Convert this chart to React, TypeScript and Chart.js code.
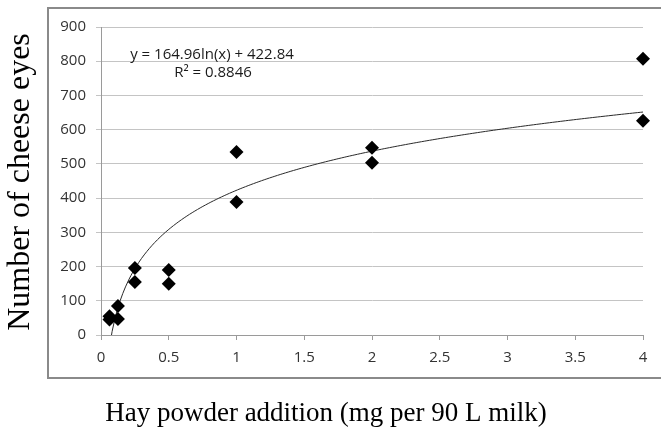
import React, { useEffect, useRef } from "react";
import { Chart, registerables } from "chart.js";

Chart.register(...registerables);

// Data
const HAY_X = [0.0625, 0.0625, 0.125, 0.125, 0.25, 0.25, 0.5, 0.5, 1, 1, 2, 2, 4, 4];
const EYES = [55, 45, 85, 47, 196, 155, 190, 150, 535, 389, 547, 503, 807, 626];

// Logarithmic trendline coefficients (shown on chart)
const TREND_A = 164.96;
const TREND_B = 422.84;
const TREND_LABEL = "y = 164.96ln(x) + 422.84";
const R2_LABEL = "R² = 0.8846";

const X_TITLE = "Hay powder addition (mg per 90 L milk)";
const Y_TITLE = "Number of cheese eyes";

const X_MIN = 0;
const X_MAX = 4;
const X_STEP = 0.5;
const Y_MIN = 0;
const Y_MAX = 900;
const Y_STEP = 100;

function trendPoints() {
  const lo = Math.min(...HAY_X);
  const hi = Math.max(...HAY_X);
  const n = 200;
  const pts: { x: number; y: number }[] = [];
  for (let i = 0; i <= n; i++) {
    const x = lo + ((hi - lo) * i) / n;
    pts.push({ x, y: TREND_A * Math.log(x) + TREND_B });
  }
  return pts;
}

const decorPlugin = {
  id: "decor",
  beforeDraw(chart: any) {
    const ctx = chart.ctx;
    ctx.save();
    ctx.fillStyle = "#ffffff";
    ctx.fillRect(0, 0, chart.width, chart.height);
    ctx.restore();
  },
  afterDraw(chart: any) {
    const ctx = chart.ctx;
    ctx.save();
    // outer frame
    ctx.strokeStyle = "#8a8a8a";
    ctx.lineWidth = 2;
    ctx.strokeRect(48, 8, 700, 370);
    // equation text
    ctx.fillStyle = "#1a1a1a";
    ctx.font = "15px 'Open Sans', 'Noto Sans', sans-serif";
    ctx.textAlign = "center";
    ctx.textBaseline = "middle";
    ctx.fillText(TREND_LABEL, 212, 55);
    ctx.fillText(R2_LABEL, 213, 73);
    // axis titles
    ctx.fillStyle = "#000000";
    ctx.font = "27px 'Liberation Serif', 'DejaVu Serif', serif";
    ctx.fillText(X_TITLE, 326, 414);
    ctx.font = "32px 'Liberation Serif', 'DejaVu Serif', serif";
    ctx.translate(21, 182);
    ctx.rotate(-Math.PI / 2);
    ctx.fillText(Y_TITLE, 0, 0);
    ctx.restore();
  },
};

export default function App() {
  const ref = useRef<HTMLCanvasElement | null>(null);
  useEffect(() => {
    document.body.style.margin = "0";
    const canvas = ref.current;
    if (!canvas) return;
    const tickFont = { family: "'Open Sans', 'Noto Sans', sans-serif", size: 15 };
    const chart = new Chart(canvas, {
      type: "scatter",
      data: {
        datasets: [
          {
            label: "data",
            data: HAY_X.map((x, i) => ({ x, y: EYES[i] })),
            pointStyle: "rectRot",
            pointRadius: 7,
            pointBackgroundColor: "#000000",
            pointBorderColor: "#000000",
            pointBorderWidth: 0,
            showLine: false,
            clip: false,
            order: 1,
          },
          {
            label: "trend",
            data: trendPoints(),
            showLine: true,
            pointRadius: 0,
            borderColor: "#2a2a2a",
            borderWidth: 1,
            order: 2,
          },
        ],
      },
      options: {
        responsive: false,
        animation: false,
        layout: { padding: { left: 0, top: 27, right: 18, bottom: 0 } },
        plugins: {
          legend: { display: false },
          tooltip: { enabled: false },
        },
        scales: {
          x: {
            type: "linear",
            min: X_MIN,
            max: X_MAX,
            ticks: {
              stepSize: X_STEP,
              font: tickFont,
              color: "#333333",
              padding: 9,
              maxRotation: 0,
              callback: (v: any) => String(Number(v)),
            },
            grid: {
              drawOnChartArea: false,
              drawTicks: true,
              tickLength: 5,
              color: "#9a9a9a",
            },
            border: { color: "#9a9a9a", width: 1 },
            afterFit(scale: any) {
              scale.height = 97;
            },
          },
          y: {
            type: "linear",
            min: Y_MIN,
            max: Y_MAX,
            ticks: {
              stepSize: Y_STEP,
              font: tickFont,
              color: "#333333",
              padding: 10,
              callback: (v: any) => String(Number(v)),
            },
            grid: {
              color: "#c4c4c4",
              lineWidth: 1,
              tickLength: 5,
            },
            border: { color: "#9a9a9a", width: 1 },
            afterFit(scale: any) {
              scale.width = 101;
            },
          },
        },
      },
      plugins: [decorPlugin],
    } as any);
    return () => chart.destroy();
  }, []);
  return (
    <div style={{ width: 661, height: 432 }}>
      <canvas ref={ref} width={661} height={432} style={{ display: "block" }} />
    </div>
  );
}
